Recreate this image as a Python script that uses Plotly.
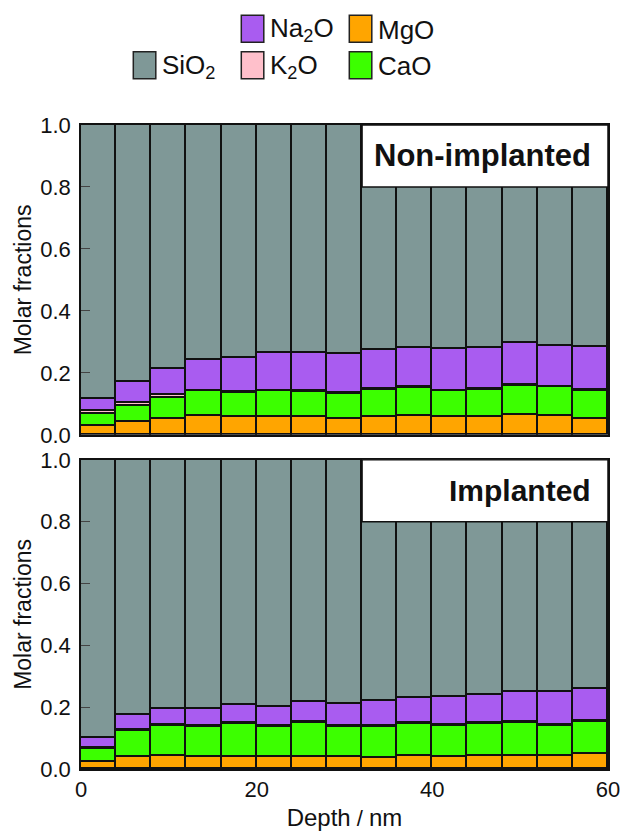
import plotly.graph_objects as go
from plotly.subplots import make_subplots

# ---------------- data ----------------
depth = [2, 6, 10, 14, 18, 22, 26, 30, 34, 38, 42, 46, 50, 54, 58]  # bar centres, nm
bar_width_nm = 4

components = ["MgO", "CaO", "K2O", "Na2O", "SiO2"]  # bottom -> top
labels = {"MgO": "MgO", "CaO": "CaO", "K2O": "K<sub>2</sub>O",
          "Na2O": "Na<sub>2</sub>O", "SiO2": "SiO<sub>2</sub>"}
colors = {"MgO": "#ffa500", "CaO": "#3cff00", "K2O": "#ffc0cb",
          "Na2O": "#a95cf0", "SiO2": "#7f9897"}

# Non-implanted
mgo_non = [0.030, 0.041, 0.051, 0.061, 0.057, 0.057, 0.057, 0.052, 0.058, 0.060, 0.056, 0.056, 0.064, 0.061, 0.051]
cao_non = [0.038, 0.053, 0.069, 0.079, 0.078, 0.083, 0.080, 0.079, 0.087, 0.091, 0.084, 0.088, 0.095, 0.092, 0.091]
k2o_non = [0.010, 0.010, 0.009, 0.003, 0.003, 0.003, 0.003, 0.003, 0.003, 0.003, 0.003, 0.003, 0.003, 0.003, 0.003]
na2o_non = [0.038, 0.066, 0.085, 0.099, 0.110, 0.121, 0.124, 0.128, 0.126, 0.127, 0.135, 0.134, 0.134, 0.132, 0.139]
sio2_non = [0.884, 0.830, 0.786, 0.758, 0.752, 0.736, 0.736, 0.738, 0.726, 0.719, 0.722, 0.719, 0.704, 0.712, 0.716]

# Implanted
mgo_imp = [0.024, 0.038, 0.041, 0.040, 0.040, 0.039, 0.039, 0.039, 0.037, 0.041, 0.040, 0.042, 0.044, 0.044, 0.048]
cao_imp = [0.041, 0.085, 0.098, 0.096, 0.105, 0.096, 0.109, 0.098, 0.100, 0.104, 0.101, 0.104, 0.106, 0.097, 0.105]
k2o_imp = [0.005, 0.003, 0.003, 0.003, 0.003, 0.003, 0.003, 0.003, 0.003, 0.003, 0.003, 0.003, 0.003, 0.003, 0.003]
na2o_imp = [0.030, 0.049, 0.051, 0.054, 0.058, 0.063, 0.066, 0.071, 0.079, 0.081, 0.088, 0.091, 0.096, 0.106, 0.103]
sio2_imp = [0.900, 0.825, 0.807, 0.807, 0.794, 0.799, 0.783, 0.789, 0.781, 0.771, 0.768, 0.760, 0.751, 0.750, 0.741]

panels = [
    ("Non-implanted", {"MgO": mgo_non, "CaO": cao_non, "K2O": k2o_non, "Na2O": na2o_non, "SiO2": sio2_non}),
    ("Implanted", {"MgO": mgo_imp, "CaO": cao_imp, "K2O": k2o_imp, "Na2O": na2o_imp, "SiO2": sio2_imp}),
]

y_ticks = [0.0, 0.2, 0.4, 0.6, 0.8, 1.0]
y_ticktext = ["0.0", "0.2", "0.4", "0.6", "0.8", "1.0"]
x_ticks = [0, 20, 40, 60]

# ---------------- layout geometry (page px; body margin removed below) ----------------
W, H = 622, 834
PLOT_L, PLOT_R = 80.7, 607.7          # page px
TOP1, BOT1 = 125.3, 435.0             # upper panel, page px
TOP2, BOT2 = 460.0, 769.0             # lower panel, page px
ML = PLOT_L
MR = W - PLOT_R
MT = TOP1
MB = H - BOT2
PW, PH = W - ML - MR, H - MT - MB
FONT = "Liberation Sans, Arial, sans-serif"


def px_x(px):  # page px -> paper
    return (px - ML) / PW


def px_y(py):  # page px -> paper
    return (H - MB - py) / PH


fig = make_subplots(rows=2, cols=1, shared_xaxes=False, vertical_spacing=0.0)

for r, (title, data) in enumerate(panels, start=1):
    for comp in components:
        fig.add_trace(go.Bar(
            x=depth, y=data[comp], width=bar_width_nm,
            marker=dict(color=colors[comp], line=dict(color="#111111", width=1.6)),
            name=labels[comp], showlegend=False,
        ), row=r, col=1)

fig.update_layout(
    barmode="stack", bargap=0,
    width=W, height=H,
    margin=dict(l=ML, r=MR, t=MT, b=MB, autoexpand=False),
    paper_bgcolor="white", plot_bgcolor="white",
    font=dict(family=FONT, size=22, color="#111111"),
)

# domains
fig.update_layout(
    yaxis=dict(domain=[px_y(BOT1), px_y(TOP1)]),
    yaxis2=dict(domain=[px_y(BOT2), px_y(TOP2)]),
)

for r in (1, 2):
    fig.update_yaxes(
        range=[0, 1], tickvals=y_ticks, ticktext=y_ticktext,
        ticks="inside", ticklen=9, tickcolor="#444444", tickwidth=1,
        showgrid=False, zeroline=False, showline=True, linecolor="#111111",
        linewidth=1.5, mirror=True, tickfont=dict(size=22),
        ticklabelstandoff=4, automargin=False,
        title=dict(text="Molar fractions", font=dict(size=23), standoff=2),
        row=r, col=1)
    fig.update_xaxes(
        range=[0, 60], tickvals=x_ticks, showgrid=False, zeroline=False,
        showline=True, linecolor="#111111", linewidth=1.5, mirror=True,
        ticks="", showticklabels=(r == 2), tickfont=dict(size=22),
        automargin=False, ticklabeloverflow="allow",
        row=r, col=1)

fig.update_xaxes(title=dict(text="Depth<span style='font-size:22px'> / </span>nm",
                            font=dict(size=24), standoff=8), row=2, col=1)

shapes = []
annotations = []

# panel label boxes
for r, (title, _) in enumerate(panels, start=1):
    xd = "x domain" if r == 1 else "x2 domain"
    yr = "y" if r == 1 else "y2"
    shapes.append(dict(type="rect", xref=xd, yref=yr, x0=32 / 60, x1=1.0, y0=0.8, y1=1.0,
                       fillcolor="white", line=dict(color="#111111", width=1.5), layer="above"))
    annotations.append(dict(xref=xd, yref=yr, x=0.972, y=0.9, xanchor="right", yanchor="middle",
                            text=f"<b>{title}</b>", showarrow=False,
                            font=dict(size=31 if r == 1 else 30, family=FONT, color="#111111")))

# custom legend (page px of the swatch top-left corners)
legend_items = [
    ("Na2O", 241, 15.7),
    ("MgO", 349, 15.7),
    ("SiO2", 133, 52),
    ("K2O", 241, 52),
    ("CaO", 349, 52),
]
bw, bh = 22.5, 27
for comp, bx, by in legend_items:
    shapes.append(dict(type="rect", xref="paper", yref="paper",
                       x0=px_x(bx), x1=px_x(bx + bw), y0=px_y(by + bh), y1=px_y(by),
                       fillcolor=colors[comp], line=dict(color="#222222", width=1.5)))
    annotations.append(dict(xref="paper", yref="paper", x=px_x(bx + bw + 4), y=px_y(by + bh / 2 + 1),
                            xanchor="left", yanchor="middle", text=labels[comp], showarrow=False,
                            font=dict(size=26, family=FONT, color="#111111")))

fig.update_layout(shapes=shapes, annotations=annotations)

fig.write_html(
    "out.html",
    config={"displayModeBar": False},
    post_script="document.body.style.margin='0';document.body.style.overflow='hidden';",
)
